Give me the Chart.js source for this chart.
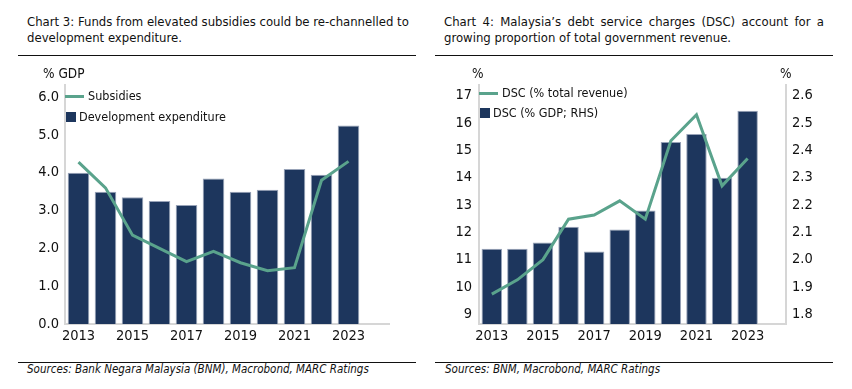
<!DOCTYPE html>
<html>
<head>
<meta charset="utf-8">
<script src="https://cdn.jsdelivr.net/npm/chart.js@4"></script>
<style>
  body { margin: 0; background: #fff; }
  #page { position: relative; width: 852px; height: 389px; overflow: hidden; font-family: "DejaVu Sans Condensed", "DejaVu Sans", sans-serif; color: #111; }
  .title { position: absolute; top: 14px; width: 380px; font-size: 13px; line-height: 16px; }
  .title .l1 { text-align: justify; text-align-last: justify; white-space: nowrap; }
  .rule { position: absolute; height: 0; border-top: 1.5px solid #111; }
  .unit { position: absolute; top: 65px; font-size: 13.5px; }
  .src { position: absolute; top: 362px; font-size: 11.5px; font-style: italic; }
  .leg { position: absolute; font-size: 12.5px; white-space: nowrap; }
  .leg .ln { display: inline-block; width: 19px; height: 3px; background: #5aa38c; vertical-align: middle; margin-right: 4px; }
  .leg .sq { display: inline-block; width: 10px; height: 10px; background: #1d365d; vertical-align: middle; margin-right: 3px; position: relative; top: -1px; }
  canvas { position: absolute; top: 0; }
</style>
</head>
<body>
<div id="page">
  <div class="title" style="left:27px">
    <div class="l1">Chart 3: Funds from elevated subsidies could be re-channelled to</div>
    <div>development expenditure.</div>
  </div>
  <div class="title" style="left:444px">
    <div class="l1">Chart 4: Malaysia’s debt service charges (DSC) account for a</div>
    <div>growing proportion of total government revenue.</div>
  </div>
  <div class="rule" style="left:18px; width:398px; top:55px"></div>
  <div class="rule" style="left:435px; width:398px; top:55px"></div>

  <canvas id="chart3" width="426" height="350" style="left:0"></canvas>
  <canvas id="chart4" width="426" height="350" style="left:426px"></canvas>

  <div class="unit" style="left:43px">% GDP</div>
  <div class="unit" style="left:472px">%</div>
  <div class="unit" style="left:780px">%</div>

  <div class="leg" style="left:65px; top:88px"><span class="ln"></span>Subsidies</div>
  <div class="leg" style="left:66px; top:109px"><span class="sq"></span>Development expenditure</div>
  <div class="leg" style="left:479px; top:85px"><span class="ln"></span>DSC (% total revenue)</div>
  <div class="leg" style="left:480px; top:105px"><span class="sq"></span>DSC (% GDP; RHS)</div>

  <div class="rule" style="left:18px; width:398px; top:362px"></div>
  <div class="rule" style="left:435px; width:398px; top:362px"></div>
  <div class="src" style="left:27px">Sources: Bank Negara Malaysia (BNM), Macrobond, MARC Ratings</div>
  <div class="src" style="left:445px">Sources: BNM, Macrobond, MARC Ratings</div>
</div>

<script>
// ------------------------
// Data
// ------------------------
const years = ['2013', '2014', '2015', '2016', '2017', '2018', '2019', '2020', '2021', '2022', '2023'];

// Chart 3 (% GDP)
const devExpenditure = [4.0, 3.5, 3.35, 3.25, 3.15, 3.85, 3.5, 3.55, 4.1, 3.95, 5.25];
const subsidies = [4.28, 3.6, 2.35, 2.0, 1.65, 1.92, 1.62, 1.41, 1.49, 3.8, 4.3];

// Chart 4
const dscRevenue = [9.74, 10.26, 11.0, 12.48, 12.63, 13.15, 12.48, 15.35, 16.3, 13.7, 14.7]; // % total revenue
const dscGdp = [2.04, 2.04, 2.063, 2.12, 2.03, 2.11, 2.18, 2.43, 2.46, 2.30, 2.545];       // % GDP, RHS

// one empty slot after 2023, as in the original axis
const xLabels = [...years, ''];

const NAVY = '#1d365d';
const GREEN = '#5aa38c';
const AXIS = '#d6d6d6';
const tickFont = { family: 'DejaVu Sans Condensed', size: 14.5 };

Chart.defaults.animation = false;
Chart.defaults.responsive = false;
Chart.defaults.devicePixelRatio = 1;
Chart.defaults.plugins.legend.display = false;
Chart.defaults.plugins.tooltip.enabled = false;

const noGrid = { display: false, drawTicks: false };

function xAxis() {
    return {
        grid: noGrid,
        border: { color: AXIS, width: 2 },
        ticks: {
            font: tickFont, color: '#111', autoSkip: false, maxRotation: 0, padding: 4,
            callback: function (v, i) { return i % 2 === 0 ? this.getLabelForValue(v) : ''; }
        },
        afterFit: s => { s.height = 26; }
    };
}

function barSet(label, data, axis) {
    return {
        type: 'bar', label, data, yAxisID: axis, order: 1,
        backgroundColor: NAVY, borderColor: '#98a3b8', borderWidth: 1,
        categoryPercentage: 0.8, barPercentage: 1
    };
}

function lineSet(label, data, axis) {
    return {
        type: 'line', label, data, yAxisID: axis, order: 0,
        borderColor: GREEN, borderWidth: 3, pointRadius: 0, tension: 0
    };
}

// ------------------------
// Chart 3
// ------------------------
new Chart(document.getElementById('chart3'), {
    data: {
        labels: xLabels,
        datasets: [
            lineSet('Subsidies', subsidies, 'y'),
            barSet('Development expenditure', devExpenditure, 'y')
        ]
    },
    options: {
        layout: { padding: { top: 85, right: 37, left: 0, bottom: 0 } },
        scales: {
            x: xAxis(),
            y: {
                min: 0, max: 6.32,
                grid: noGrid,
                border: { color: AXIS, width: 2 },
                ticks: { stepSize: 1, includeBounds: false, font: tickFont, color: '#111', padding: 6,
                         callback: v => v.toFixed(1) },
                afterFit: s => { s.width = 65; }
            }
        }
    }
});

// ------------------------
// Chart 4
// ------------------------
new Chart(document.getElementById('chart4'), {
    data: {
        labels: xLabels,
        datasets: [
            lineSet('DSC (% total revenue)', dscRevenue, 'y'),
            barSet('DSC (% GDP; RHS)', dscGdp, 'y2')
        ]
    },
    options: {
        layout: { padding: { top: 85, right: 0, left: 0, bottom: 0 } },
        scales: {
            x: xAxis(),
            y: {
                position: 'left', min: 8.645, max: 17.39,
                grid: noGrid,
                border: { color: AXIS, width: 2 },
                ticks: { stepSize: 1, includeBounds: false, font: tickFont, color: '#111', padding: 7 },
                afterFit: s => { s.width = 53; }
            },
            y2: {
                position: 'right', min: 1.7645, max: 2.639,
                grid: noGrid,
                border: { color: AXIS, width: 2 },
                ticks: { stepSize: 0.1, includeBounds: false, font: tickFont, color: '#111', padding: 6,
                         callback: v => v.toFixed(1) },
                afterFit: s => { s.width = 66; }
            }
        }
    }
});
</script>
</body>
</html>
